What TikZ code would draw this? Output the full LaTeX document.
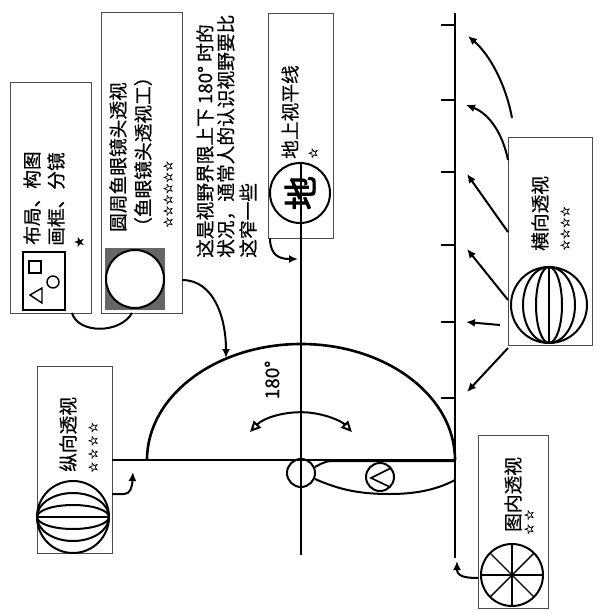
\documentclass[tikz,border=0pt]{standalone}
\usepackage{fontspec}
\setmainfont{Noto Sans CJK SC}[FakeBold=0.6]
\newfontfamily\symfont{DejaVu Sans}[FakeBold=1.2]
\newfontfamily\heavycjk{Noto Sans CJK SC}[FakeBold=2.5]
\usetikzlibrary{arrows.meta}

\begin{document}
\begin{tikzpicture}[x=1pt,y=-1pt,
  heavy/.style={line width=2.6pt},
  medium/.style={line width=2pt},
  arrowline/.style={line width=2pt,-{Latex[length=9pt,width=8pt]}},
  panel/.style={draw=black!70,line width=1.1pt,inner sep=0pt,anchor=north west},
  vtext/.style={rotate=90,anchor=west,inner sep=0pt,font=\fontsize{18.7}{19}\selectfont},
  stars/.style={rotate=90,anchor=west,inner sep=0pt,font=\symfont\fontsize{12.5}{13}\selectfont},
]
\useasboundingbox (0,0) rectangle (599,613);

% ---------- panels ----------
\node[panel,minimum width=81pt,minimum height=231pt] (layout)  at (10,82)  {};
\node[panel,minimum width=81pt,minimum height=301pt] (fisheye) at (101,12) {};
\node[panel,minimum width=65pt,minimum height=225pt] (ground)  at (268,13) {};
\node[panel,minimum width=84pt,minimum height=208pt] (horiz)   at (508,137) {};
\node[panel,minimum width=75pt,minimum height=187pt] (vert)    at (37,366) {};
\node[panel,minimum width=70pt,minimum height=173pt] (inner)   at (478,435) {};

% ---------- panel texts ----------
\node[vtext] (t1) at (32,245) {布局、构图};
\node[vtext] (t2) at (56,246) {画框、分镜};
\node[inner sep=0pt,font=\symfont\fontsize{12}{12}\selectfont,rotate=90] (t3) at (79,242) {★};

\node[vtext] (f1) at (118,232) {圆周鱼眼镜头透视};
\node[vtext] (f2) at (143,236) {（鱼眼镜头透视工）};
\node[stars] (f3) at (168,228) {☆☆☆☆☆☆};

\node[vtext] (n1) at (205,258) {这是视野界限上下 180° 时的};
\node[vtext] (n2) at (226,258) {状况，通常人的认识视野要比};
\node[vtext] (n3) at (248,258) {这窄一些};

\node[vtext] (g1) at (290,159) {地上视平线};
\node[stars] (g2) at (313,159) {☆};

\node[vtext] (h1) at (540,251) {横向透视};
\node[stars] (h2) at (565,251) {☆☆☆☆};

\node[vtext] (v1) at (68,472) {纵向透视};
\node[stars] (v2) at (93,473) {☆\hspace{2pt}☆\hspace{2pt}☆\hspace{2pt}☆};

\node[vtext] (i1) at (513,532) {图内透视};
\node[stars] (i2) at (529,535) {☆\hspace{3pt}☆};

% ---------- layout icon ----------
\draw[line width=1.6pt] (23,252) rectangle (65,310);
\draw[line width=1.4pt] (29,261) rectangle (41,273);
\draw[line width=1.4pt] (53,282) circle[radius=6];
\draw[line width=1.4pt] (30,295) -- (42,288) -- (42,303) -- cycle;

% ---------- fisheye icon ----------
\fill[black!60] (105,248) rectangle (165,310);
\draw[medium,fill=white] (135,279) circle[radius=29];

% ---------- globes ----------
\draw[medium] (549,305) circle[radius=38];
\draw[medium] (549,267) -- (549,343);
\draw[medium] (549,305) ellipse[x radius=13,y radius=38];
\draw[medium] (549,305) ellipse[x radius=26,y radius=38];

\draw[medium] (73,517) circle[radius=36];
\draw[medium] (37,517) -- (109,517);
\draw[medium] (73,517) ellipse[x radius=36,y radius=12];
\draw[medium] (73,517) ellipse[x radius=36,y radius=24];

\draw[medium] (512,575) circle[radius=31];
\foreach \a in {0,45,90,135}
  \draw[line width=1.4pt] (512,575) ++(\a:31) -- ++(\a+180:62);

% ---------- ground circle ----------
\draw[medium,fill=white] (300,193) circle[radius=30];
\node[inner sep=0pt,rotate=90,font=\heavycjk\fontsize{34}{34}\selectfont] (gc) at (300,193) {地};

% ---------- main lines ----------
\coordinate (gTop) at (455,13);
\coordinate (gBot) at (455,558);
\draw[heavy] (gTop) -- (gBot);
\foreach \y in {25,100,172,245,322,398}
  \draw[heavy] (441,\y) -- (455,\y);

\coordinate (hL) at (112,460);
\coordinate (hR) at (455,460);
\draw[heavy] (hL) -- (hR);

\coordinate (aTop) at (301,163);
\coordinate (aBot) at (301,555);
\draw[heavy] (aTop) -- (aBot);

% field of view arc
\draw[heavy] (147,460) arc[start angle=-180,end angle=0,x radius=154,y radius=116];
\draw[medium,{Triangle[open,length=11pt,width=10pt]}-{Triangle[open,length=11pt,width=10pt]}]
  (250,432) arc[start angle=-144,end angle=-36,x radius=63,y radius=48];
\node[inner sep=0pt,rotate=90,font=\fontsize{19}{19}\selectfont] (deg) at (272,380) {180°};

% viewer
\draw[medium] (301,473) circle[radius=14];
\draw[medium] (315,467) .. controls (326,461) .. (340,461) -- (455,461);
\draw[medium] (315,479) .. controls (340,490) and (360,494) .. (390,494)
  .. controls (420,494) and (440,488) .. (455,480);
\draw[medium] (380,477) circle[radius=14];
\draw[line width=1.6pt] (391,468) -- (371,478) -- (390,487);

% ---------- connectors ----------
\coordinate (lb) at (72,313);
\coordinate (fb) at (132,313);
\draw[medium] (lb) .. controls (78,334) and (120,334) .. (fb);

\coordinate (fe) at (182,280);
\coordinate (arcHit) at (226,358);
\draw[arrowline] (fe) .. controls (214,280) and (226,318) .. (arcHit);

\coordinate (gb) at (270,238);
\coordinate (gHit) at (298,259);
\draw[arrowline] (gb) .. controls (270,256) and (280,259) .. (gHit);

\coordinate (ve) at (112,494);
\coordinate (vHit) at (133,472);
\draw[arrowline] (ve) -- (124,494) .. controls (130,494) and (132,488) .. (vHit);

\coordinate (ie) at (478,578);
\coordinate (iHit) at (457,561);
\draw[arrowline] (ie) .. controls (464,578) and (457,576) .. (iHit);

% arrows from the horizontal-perspective panel to the ticks
\coordinate (s1) at (512,118); \coordinate (e1) at (468,36);
\coordinate (s2) at (508,160); \coordinate (e2) at (466,105);
\coordinate (s3) at (508,232); \coordinate (e3) at (467,174);
\coordinate (s4) at (508,300); \coordinate (e4) at (467,249);
\coordinate (s5) at (500,325); \coordinate (e5) at (466,322);
\coordinate (s6) at (508,348); \coordinate (e6) at (467,392);
\draw[arrowline] (s1) .. controls (506,85) and (490,55) .. (e1);
\draw[arrowline] (s2) .. controls (503,135) and (490,114) .. (e2);
\draw[arrowline] (s3) -- (e3);
\draw[arrowline] (s4) -- (e4);
\draw[arrowline] (s5) -- (e5);
\draw[arrowline] (s6) -- (e6);
\end{tikzpicture}
\end{document}
